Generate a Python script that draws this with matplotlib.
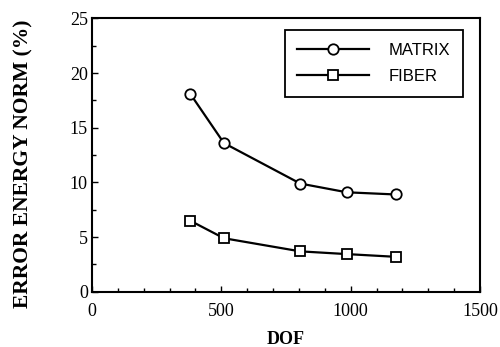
import matplotlib
matplotlib.use("Agg")
import matplotlib.pyplot as plt
from matplotlib.ticker import MultipleLocator

# values
dof = [380, 510, 805, 985, 1175]
matrix_err = [18.1, 13.6, 9.9, 9.1, 8.9]
fiber_err = [6.5, 4.9, 3.7, 3.45, 3.2]

x_ticks = [0, 500, 1000, 1500]
y_ticks = [0, 5, 10, 15, 20, 25]

plt.rcParams["font.family"] = "Liberation Serif"

fig = plt.figure(figsize=(5, 3.47), dpi=100)
ax = fig.add_axes([0.184, 0.159, 0.776, 0.788])

ax.plot(dof, matrix_err, color="black", linewidth=1.6, marker="o", markersize=7.5,
        markerfacecolor="white", markeredgewidth=1.3, label="MATRIX")
ax.plot(dof, fiber_err, color="black", linewidth=1.6, marker="s", markersize=7.5,
        markerfacecolor="white", markeredgewidth=1.3, label="FIBER")

ax.set_xlim(0, 1500)
ax.set_ylim(0, 25)
ax.set_xticks(x_ticks)
ax.set_yticks(y_ticks)
ax.xaxis.set_minor_locator(MultipleLocator(100))
ax.yaxis.set_minor_locator(MultipleLocator(2.5))
ax.tick_params(which="both", direction="in", width=1.0, labelsize=13)
ax.tick_params(axis="x", pad=8)
ax.tick_params(axis="y", pad=3)
ax.tick_params(which="major", length=4)
ax.tick_params(which="minor", length=3)
for s in ax.spines.values():
    s.set_linewidth(1.5)

ax.set_xlabel("DOF", fontweight="bold", fontsize=13)
ax.set_ylabel("ERROR ENERGY NORM (%)", fontweight="bold", fontsize=15.5)
ax.xaxis.set_label_coords(0.50, -0.145)
ax.yaxis.set_label_coords(-0.15, 0.47)

leg = ax.legend(loc="upper right", bbox_to_anchor=(0.956, 0.957), borderaxespad=0,
                frameon=True, fancybox=False, edgecolor="black", framealpha=1,
                handlelength=4.3, prop={"family": "Liberation Sans", "size": 12},
                borderpad=0.75, labelspacing=0.7, handletextpad=1.2)
leg.get_frame().set_linewidth(1.3)

fig.savefig("out.png", dpi=100)
